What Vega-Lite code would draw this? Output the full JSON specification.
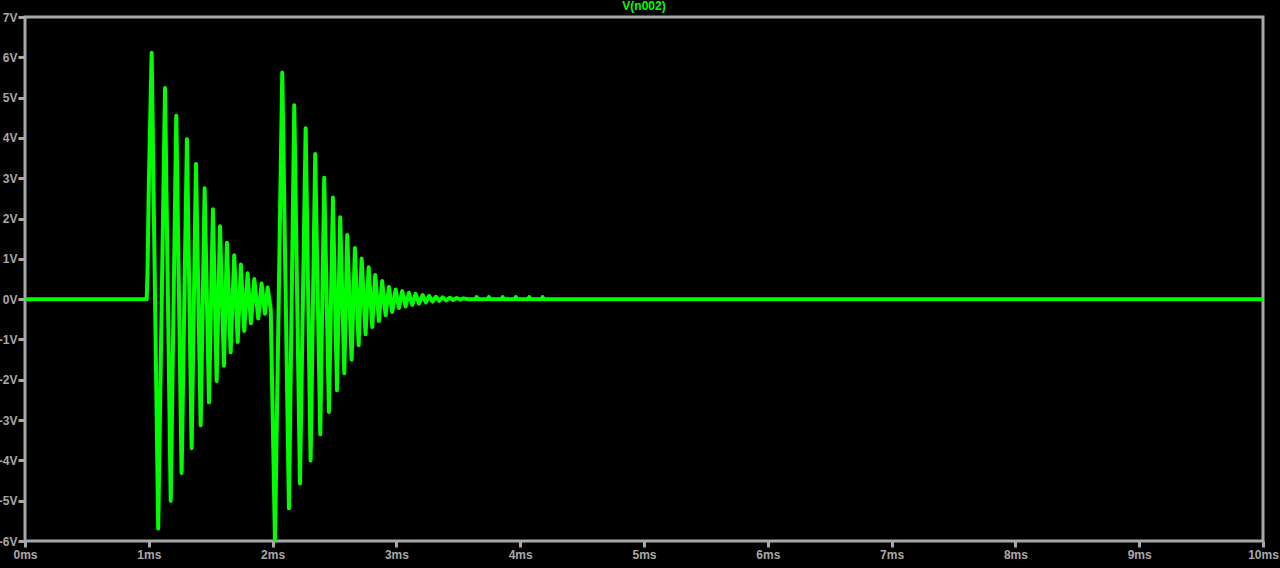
{
  "$schema": "https://vega.github.io/schema/vega-lite/v6.json",
  "autosize": "none",
  "width": 1238,
  "height": 524,
  "padding": {"left": 25, "top": 17, "right": 17, "bottom": 27},
  "background": "#000000",
  "title": {"text": "V(n002)", "color": "#00ff00", "fontSize": 12, "fontWeight": "bold", "font": "Liberation Sans", "anchor": "middle", "baseline": "bottom", "offset": 4, "dy": 18},
  "config": {"view": {"stroke": "#a8a8a8", "strokeWidth": 3}},
  "data": {"values": [
    {"t": 0, "v": 0}, {"t": 0.983, "v": 0}, {"t": 0.99, "v": 0.74}, {"t": 1.0, "v": 2.8},
    {"t": 1.023, "v": 6.11}, {"t": 1.076, "v": -5.69}, {"t": 1.131, "v": 5.24}, {"t": 1.177, "v": -5.0},
    {"t": 1.222, "v": 4.55}, {"t": 1.265, "v": -4.31}, {"t": 1.308, "v": 3.97}, {"t": 1.346, "v": -3.7},
    {"t": 1.381, "v": 3.35}, {"t": 1.419, "v": -3.13}, {"t": 1.451, "v": 2.75}, {"t": 1.486, "v": -2.56},
    {"t": 1.518, "v": 2.23}, {"t": 1.548, "v": -2.03}, {"t": 1.575, "v": 1.81}, {"t": 1.607, "v": -1.65},
    {"t": 1.631, "v": 1.4}, {"t": 1.661, "v": -1.32}, {"t": 1.69, "v": 1.09}, {"t": 1.718, "v": -1.06},
    {"t": 1.744, "v": 0.86}, {"t": 1.771, "v": -0.79}, {"t": 1.798, "v": 0.64}, {"t": 1.825, "v": -0.6},
    {"t": 1.852, "v": 0.5}, {"t": 1.884, "v": -0.48}, {"t": 1.911, "v": 0.39}, {"t": 1.938, "v": -0.36},
    {"t": 1.96, "v": 0.29}, {"t": 1.985, "v": -0.25},
    {"t": 2.019, "v": -5.98}, {"t": 2.078, "v": 5.62}, {"t": 2.132, "v": -5.19}, {"t": 2.175, "v": 4.81},
    {"t": 2.221, "v": -4.57}, {"t": 2.267, "v": 4.24}, {"t": 2.307, "v": -4.0}, {"t": 2.344, "v": 3.6},
    {"t": 2.385, "v": -3.35}, {"t": 2.417, "v": 3.01}, {"t": 2.455, "v": -2.8}, {"t": 2.487, "v": 2.52},
    {"t": 2.52, "v": -2.26}, {"t": 2.546, "v": 2.03}, {"t": 2.579, "v": -1.84}, {"t": 2.603, "v": 1.59},
    {"t": 2.638, "v": -1.5}, {"t": 2.665, "v": 1.27}, {"t": 2.695, "v": -1.14}, {"t": 2.719, "v": 1.01},
    {"t": 2.751, "v": -0.87}, {"t": 2.776, "v": 0.79}, {"t": 2.805, "v": -0.69}, {"t": 2.829, "v": 0.6},
    {"t": 2.859, "v": -0.54}, {"t": 2.885, "v": 0.45}, {"t": 2.913, "v": -0.4}, {"t": 2.94, "v": 0.3},
    {"t": 2.966, "v": -0.32}, {"t": 2.994, "v": 0.24}, {"t": 3.02, "v": -0.22}, {"t": 3.047, "v": 0.2},
    {"t": 3.074, "v": -0.18}, {"t": 3.101, "v": 0.16}, {"t": 3.128, "v": -0.14}, {"t": 3.155, "v": 0.13},
    {"t": 3.182, "v": -0.11}, {"t": 3.212, "v": 0.1}, {"t": 3.238, "v": -0.08}, {"t": 3.265, "v": 0.08},
    {"t": 3.292, "v": -0.06}, {"t": 3.319, "v": 0.06}, {"t": 3.346, "v": -0.04}, {"t": 3.373, "v": 0.045},
    {"t": 3.4, "v": -0.03}, {"t": 3.432, "v": 0.035}, {"t": 3.456, "v": -0.02}, {"t": 3.486, "v": 0.03},
    {"t": 3.513, "v": -0.01}, {"t": 3.54, "v": 0.02}, {"t": 3.577, "v": 0},
    {"t": 3.64, "v": 0}, {"t": 3.648, "v": 0.05}, {"t": 3.656, "v": 0},
    {"t": 3.739, "v": 0}, {"t": 3.747, "v": 0.05}, {"t": 3.755, "v": 0},
    {"t": 3.85, "v": 0}, {"t": 3.858, "v": 0.05}, {"t": 3.866, "v": 0},
    {"t": 3.957, "v": 0}, {"t": 3.965, "v": 0.05}, {"t": 3.973, "v": 0},
    {"t": 4.065, "v": 0}, {"t": 4.073, "v": 0.05}, {"t": 4.081, "v": 0},
    {"t": 4.173, "v": 0}, {"t": 4.181, "v": 0.05}, {"t": 4.189, "v": 0},
    {"t": 10, "v": 0}
  ]},
  "mark": {"type": "line", "color": "#00ff00", "strokeWidth": 4, "strokeJoin": "round", "strokeCap": "round", "clip": true},
  "encoding": {
    "x": {"field": "t", "type": "quantitative", "scale": {"domain": [0, 10], "nice": false, "zero": false},
      "axis": {"title": null, "values": [0,1,2,3,4,5,6,7,8,9,10], "labelExpr": "datum.value + 'ms'", "grid": false, "domain": false,
        "tickColor": "#a8a8a8", "tickWidth": 3, "tickSize": 6, "labelColor": "#a9a9a9", "labelFont": "Liberation Sans", "labelFontSize": 12, "labelFontWeight": "bold", "labelPadding": 2, "labelFlush": false, "labelOverlap": false}},
    "y": {"field": "v", "type": "quantitative", "scale": {"domain": [-6, 7], "nice": false, "zero": false},
      "axis": {"title": null, "values": [-6,-5,-4,-3,-2,-1,0,1,2,3,4,5,6,7], "labelExpr": "datum.value + 'V'", "grid": false, "domain": false,
        "tickColor": "#a8a8a8", "tickWidth": 3, "tickSize": 7, "labelColor": "#a9a9a9", "labelFont": "Liberation Sans", "labelFontSize": 12, "labelFontWeight": "bold", "labelPadding": 1, "labelFlush": false, "labelOverlap": false}}
  }
}
